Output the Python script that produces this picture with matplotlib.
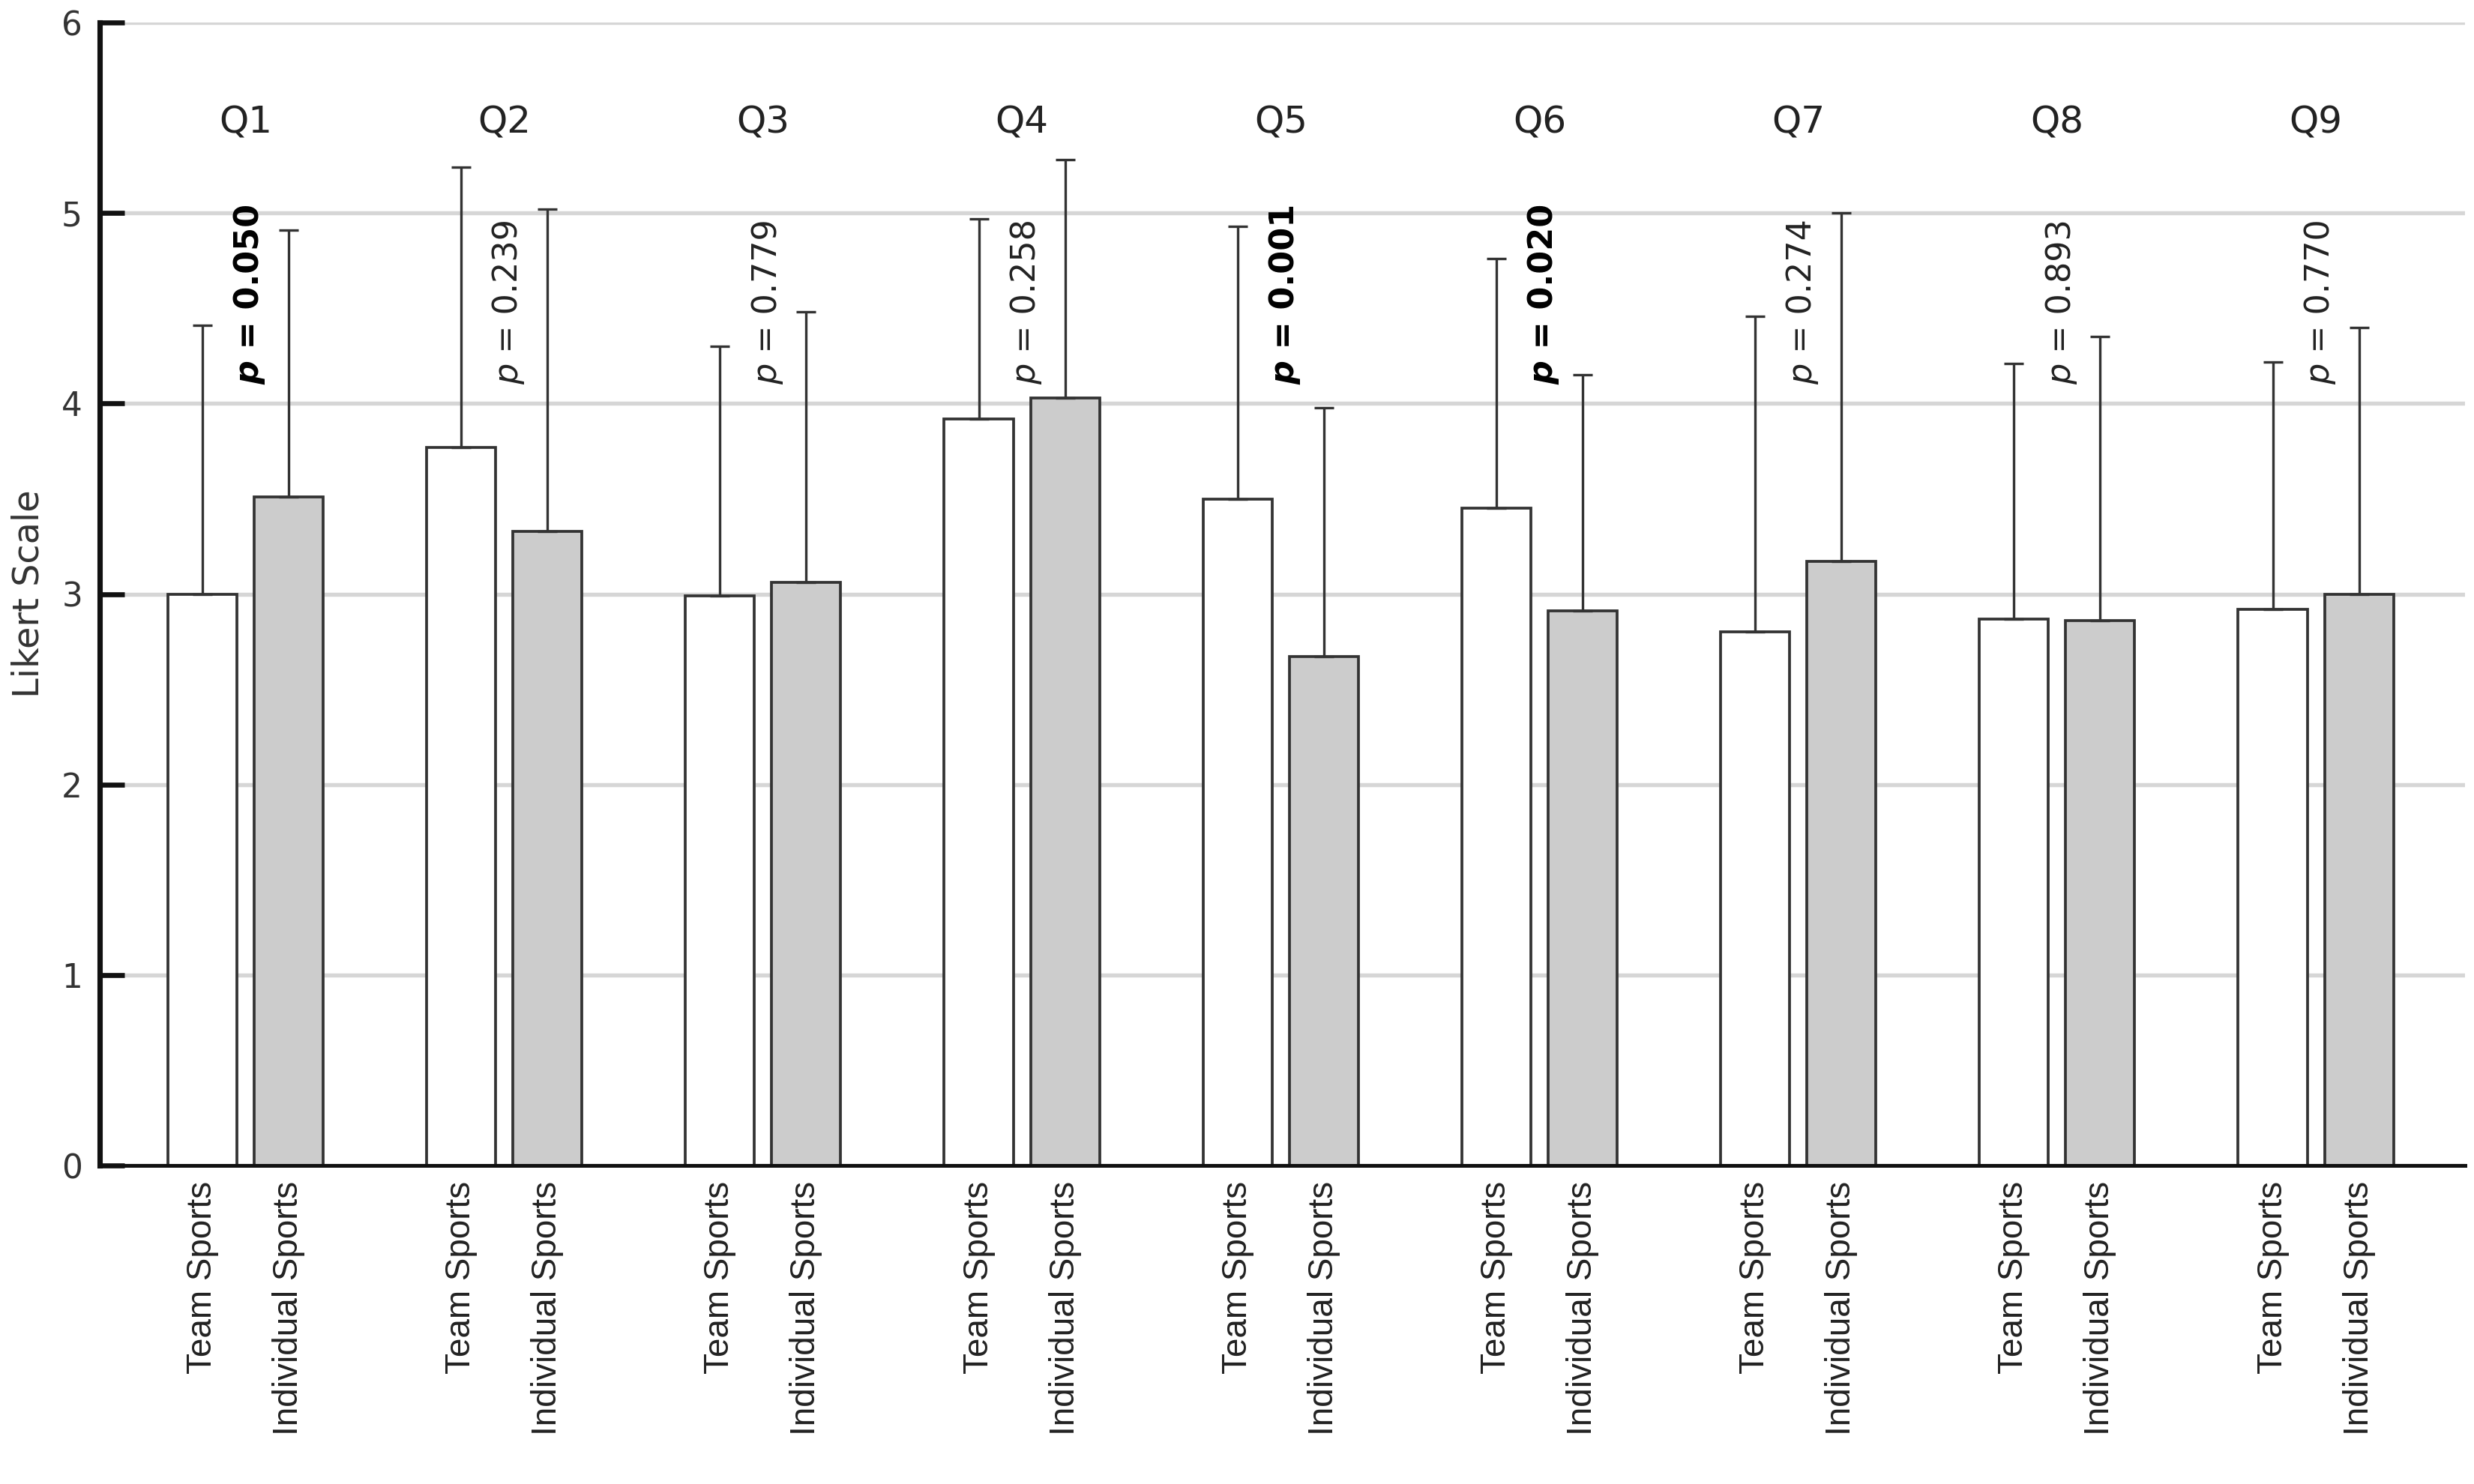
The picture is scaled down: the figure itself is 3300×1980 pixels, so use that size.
import numpy as np
import matplotlib
matplotlib.use("Agg")
import matplotlib.pyplot as plt
from matplotlib.transforms import offset_copy

# ---- data ----
questions = ["Q1", "Q2", "Q3", "Q4", "Q5", "Q6", "Q7", "Q8", "Q9"]
groups = ["Team Sports", "Individual Sports"]
team_mean = [3.00, 3.77, 2.99, 3.92, 3.50, 3.45, 2.80, 2.87, 2.92]
team_sd = [1.41, 1.47, 1.31, 1.05, 1.43, 1.31, 1.66, 1.34, 1.30]
indiv_mean = [3.51, 3.33, 3.06, 4.03, 2.67, 2.91, 3.17, 2.86, 3.00]
indiv_sd = [1.40, 1.69, 1.42, 1.25, 1.31, 1.24, 1.83, 1.49, 1.40]
p_values = ["0.050", "0.239", "0.779", "0.258", "0.001", "0.020", "0.274", "0.893", "0.770"]
p_bold = [True, False, False, False, True, True, False, False, False]
y_ticks = [0, 1, 2, 3, 4, 5, 6]
y_label = "Likert Scale"

plt.rcParams["font.family"] = ["DejaVu Sans"]

fig = plt.figure(figsize=(11, 6.6), dpi=300)
ax = fig.add_axes([0.0403, 0.2146, 0.9561, 0.7702])

n = len(questions)
x_team = np.arange(n) * 3.0
x_ind = x_team + 1.0
edge = "#333333"

ax.bar(x_team, team_mean, 0.8, color="white", edgecolor=edge, linewidth=0.9, zorder=2)
ax.bar(x_ind, indiv_mean, 0.8, color="#cccccc", edgecolor=edge, linewidth=0.9, zorder=2)
ax.errorbar(x_team, team_mean, yerr=[np.zeros(n), team_sd], fmt="none", ecolor=edge,
            elinewidth=0.8, capsize=3.2, capthick=0.8, zorder=3)
ax.errorbar(x_ind, indiv_mean, yerr=[np.zeros(n), indiv_sd], fmt="none", ecolor=edge,
            elinewidth=0.8, capsize=3.2, capthick=0.8, zorder=3)

ax.set_xlim(-1.19, 26.23)
ax.set_ylim(0, 6)
ax.set_yticks(y_ticks)
ax.set_yticklabels([str(t) for t in y_ticks], fontsize=10.5, color="#333333")
ax.yaxis.grid(True, color="#d6d6d6", linewidth=1.3, zorder=0)
ax.set_axisbelow(True)

xt = np.ravel(np.column_stack([x_team, x_ind]))
ax.set_xticks(xt)
ax.set_xticklabels(groups * n, rotation=90, fontsize=11, color="#222222",
                   family=["Liberation Sans", "DejaVu Sans"])
ax.tick_params(axis="x", direction="in", length=8, width=1.4, pad=5, color="#111111")
ax.tick_params(axis="y", direction="in", length=8, width=1.6, pad=5.5, color="#111111")

for s in ["top", "right"]:
    ax.spines[s].set_visible(False)
ax.spines["left"].set_linewidth(1.7)
ax.spines["left"].set_color("#111111")
ax.spines["bottom"].set_linewidth(1.2)
ax.spines["bottom"].set_color("#111111")

ax.set_ylabel(y_label, fontsize=11.5, color="#333333", labelpad=5)

centers = (x_team + x_ind) / 2.0
fig.canvas.draw()
renderer = fig.canvas.get_renderer()
for i in range(n):
    ax.text(centers[i], 5.42, questions[i], ha="center", va="baseline", fontsize=12,
            color="#222222")
    w = "bold" if p_bold[i] else "normal"
    col = "#000000" if p_bold[i] else "#222222"
    xp = centers[i] + 0.05
    t = ax.text(xp, 4.1, "p", rotation=90, ha="center", va="bottom", fontsize=10.7,
                style="italic", weight=w, color=col)
    h = t.get_window_extent(renderer).height
    tr = offset_copy(ax.transData, fig=fig, x=0, y=h, units="dots")
    ax.text(xp, 4.1, " = " + p_values[i], rotation=90, ha="center", va="bottom",
            fontsize=10.7, weight=w, color=col, transform=tr)

fig.savefig("out.png", dpi=300)
